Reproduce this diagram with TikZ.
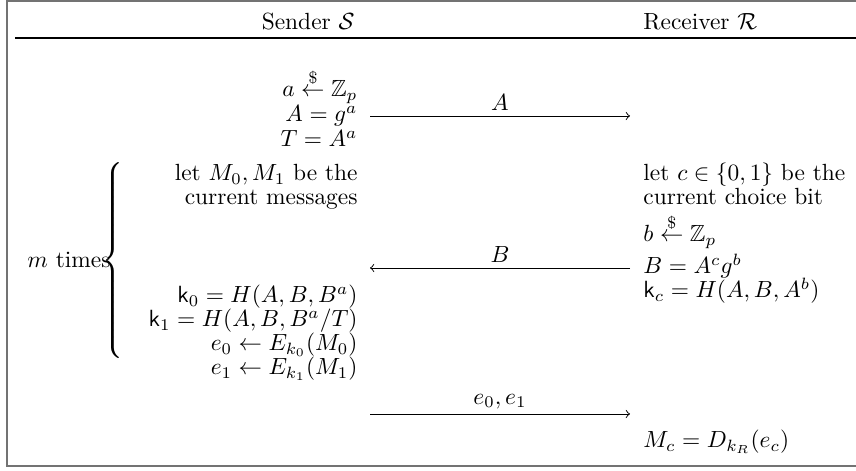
\documentclass[tikz,border=0pt]{standalone}
\usepackage{amsmath,amssymb}
\begin{document}
\begin{tikzpicture}[x=0.4274pt,y=-0.4274pt,
  snd/.style={anchor=base east,inner sep=0pt},
  rcv/.style={anchor=base west,inner sep=0pt},
  msg/.style={->,line width=0.4pt},
  lbl/.style={above,inner sep=2pt},
  frame/.style={draw=black!55,line width=0.8pt}]
\useasboundingbox (0,0) rectangle (856,471);
% frame
\draw[frame] (856,1) -- (7,1) -- (7,466) -- (856,466);
\draw[line width=0.5pt] (15,38) -- (856,38);
% header
\node[snd] (hs) at (355,30) {Sender $\mathcal{S}$};
\node[rcv] (hr) at (643,30) {Receiver $\mathcal{R}$};
% sender column
\node[snd] (s1) at (358,97)  {$a \overset{\$}{\leftarrow} \mathbb{Z}_p$};
\node[snd] (s2) at (358,122) {$A = g^a$};
\node[snd] (s3) at (358,147) {$T = A^a$};
\node[snd] (s4) at (358,181) {let $M_0, M_1$ be the};
\node[snd] (s5) at (358,205) {current messages};
\node[snd] (s6) at (358,303) {$\mathsf{k}_0 = H(A, B, B^a)$};
\node[snd] (s7) at (358,327) {$\mathsf{k}_1 = H(A, B, B^a/T)$};
\node[snd] (s8) at (358,351) {$e_0 \leftarrow E_{k_0}(M_0)$};
\node[snd] (s9) at (358,375) {$e_1 \leftarrow E_{k_1}(M_1)$};
% receiver column
\node[rcv] (r1) at (643,181) {let $c \in \{0,1\}$ be the};
\node[rcv] (r2) at (643,205) {current choice bit};
\node[rcv] (r3) at (643,242) {$b \overset{\$}{\leftarrow} \mathbb{Z}_p$};
\node[rcv] (r4) at (643,274) {$B = A^c g^b$};
\node[rcv] (r5) at (643,298) {$\mathsf{k}_c = H(A, B, A^b)$};
\node[rcv] (r6) at (643,448) {$M_c = D_{k_R}(e_c)$};
% loop brace
\node[anchor=east,inner sep=0pt] (br) at (127,263.5) {$\left\{\vrule height 42pt depth 42pt width 0pt\right.$};
\node[snd] (mt) at (111,268) {$m$ times};
% messages
\coordinate (a1) at (370,116); \coordinate (a2) at (630,116);
\coordinate (b1) at (630,268); \coordinate (b2) at (370,268);
\coordinate (c1) at (370,414); \coordinate (c2) at (630,414);
\draw[msg] (a1) -- node[lbl] (la) {$A$} (a2);
\draw[msg] (b1) -- node[lbl] (lb) {$B$} (b2);
\draw[msg] (c1) -- node[lbl] (lc) {$e_0, e_1$} (c2);
\end{tikzpicture}
\end{document}
